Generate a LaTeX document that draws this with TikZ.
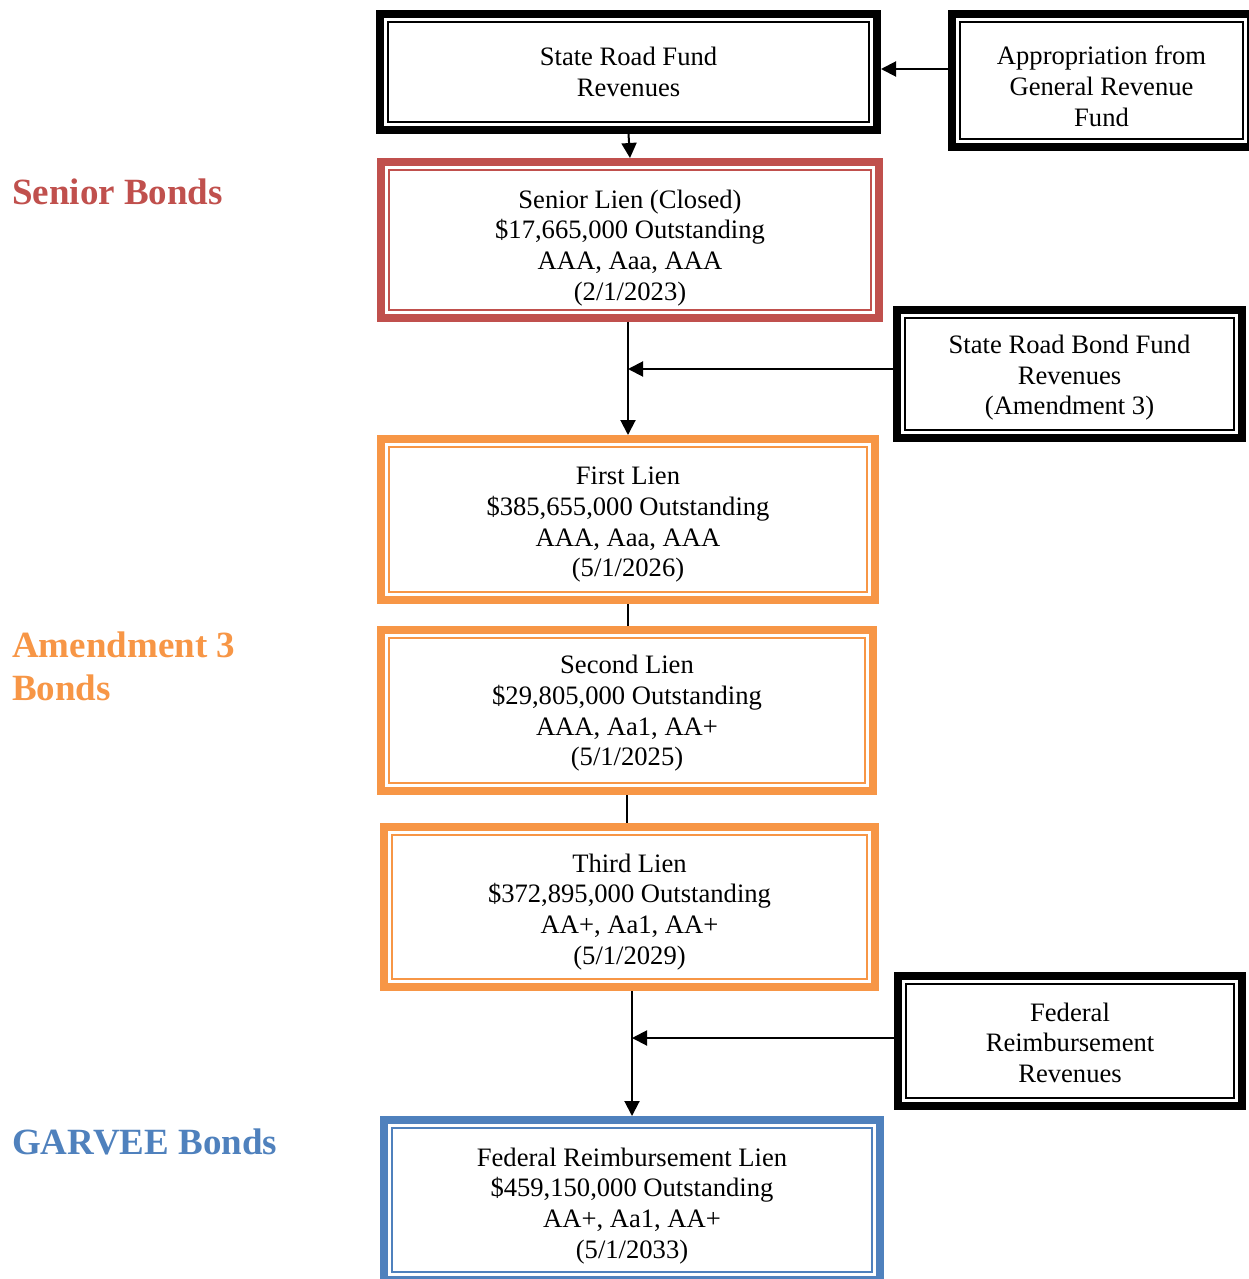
\documentclass[tikz,border=0pt]{standalone}
\usepackage{fontspec}
\setmainfont{Liberation Serif}
\usepackage{tikz}
\usetikzlibrary{calc}
\usetikzlibrary{positioning}
\usetikzlibrary{arrows.meta}
\definecolor{seniorred}{HTML}{C0504D}
\definecolor{amendorange}{HTML}{F79646}
\definecolor{garveeblue}{HTML}{4F81BD}
\tikzstyle{flowarrow} = [line width=2pt,-{Triangle[length=15pt,width=15pt]}]
\tikzstyle{flowline} = [line width=2pt]
\tikzset{
	lienbox/.style={draw=#1,line width=8pt,outer sep=4pt,inner sep=0pt,align=center,font=\fontsize{26.6}{30.6}\selectfont},
	lienbox/.default=black,
	tierlabel/.style={anchor=west,inner sep=0pt,align=left,text=#1,font=\fontsize{37}{43}\selectfont\bfseries}
}

\begin{document}
\begin{tikzpicture}[x=1pt,y=-1pt]
	\useasboundingbox (0,0) rectangle (1248,1279);
	\node[lienbox,minimum width=497pt,minimum height=116pt,text height=48.8pt] (srf) at (628.5,72) {State Road Fund\\Revenues};
	\node[lienbox,minimum width=299pt,minimum height=133pt,text height=91.4pt] (approp) at (1101.5,80.5) {Appropriation from\\General Revenue\\Fund};
	\node[lienbox=seniorred,minimum width=498pt,minimum height=156pt,text height=126pt] (senior) at (630,240) {Senior Lien (Closed)\\\$17,665,000 Outstanding\\AAA, Aaa, AAA\\(2/1/2023)};
	\node[lienbox,minimum width=345pt,minimum height=128pt,text height=87.4pt] (bondrev) at (1069.5,374) {State Road Bond Fund\\Revenues\\(Amendment 3)};
	\node[lienbox=amendorange,minimum width=494pt,minimum height=161pt,text height=120pt] (first) at (628,519.5) {First Lien\\\$385,655,000 Outstanding\\AAA, Aaa, AAA\\(5/1/2026)};
	\node[lienbox=amendorange,minimum width=492pt,minimum height=161pt,text height=116pt] (second) at (627,710.5) {Second Lien\\\$29,805,000 Outstanding\\AAA, Aa1, AA+\\(5/1/2025)};
	\node[lienbox=amendorange,minimum width=491pt,minimum height=160pt,text height=120pt] (third) at (629.5,907) {Third Lien\\\$372,895,000 Outstanding\\AA+, Aa1, AA+\\(5/1/2029)};
	\node[lienbox,minimum width=344pt,minimum height=130pt,text height=83.4pt] (fedrev) at (1070,1041) {Federal\\Reimbursement\\Revenues};
	\node[lienbox=garveeblue,minimum width=496pt,minimum height=160pt,text height=122pt] (garvee) at (632,1200) {Federal Reimbursement Lien\\\$459,150,000 Outstanding\\AA+, Aa1, AA+\\(5/1/2033)};
	\foreach \n/\c in {srf/black,approp/black,senior/seniorred,bondrev/black,first/amendorange,second/amendorange,third/amendorange,fedrev/black,garvee/garveeblue}
		\draw[\c,line width=1.7pt] ([shift={(12pt,-12pt)}]\n.north west) rectangle ([shift={(-12pt,12pt)}]\n.south east);
	\node[tierlabel=seniorred] (seniorlbl) at (12,192) {Senior Bonds};
	\node[tierlabel=amendorange] (amendlbl) at (12,666.5) {Amendment 3\\Bonds};
	\node[tierlabel=garveeblue] (garveelbl) at (12,1142) {GARVEE Bonds};
	\coordinate (approptip) at ([yshift=3pt]srf.east);
	\coordinate (bondout) at ([yshift=5pt]bondrev.west);
	\coordinate (fedout) at ([yshift=3pt]fedrev.west);
	\draw[flowarrow] (srf.south) -- (senior.north);
	\draw[flowarrow] (approp.west |- approptip) -- (approptip);
	\draw[flowarrow] (senior.south -| first.north) -- (first.north);
	\draw[flowarrow] (bondout) -- (bondout -| first.north);
	\draw[flowline] (first.south) -- (first.south |- second.north);
	\draw[flowline] (second.south) -- (second.south |- third.north);
	\draw[flowarrow] (third.south -| garvee.north) -- (garvee.north);
	\draw[flowarrow] (fedout) -- (fedout -| garvee.north);
\end{tikzpicture}
\end{document}
